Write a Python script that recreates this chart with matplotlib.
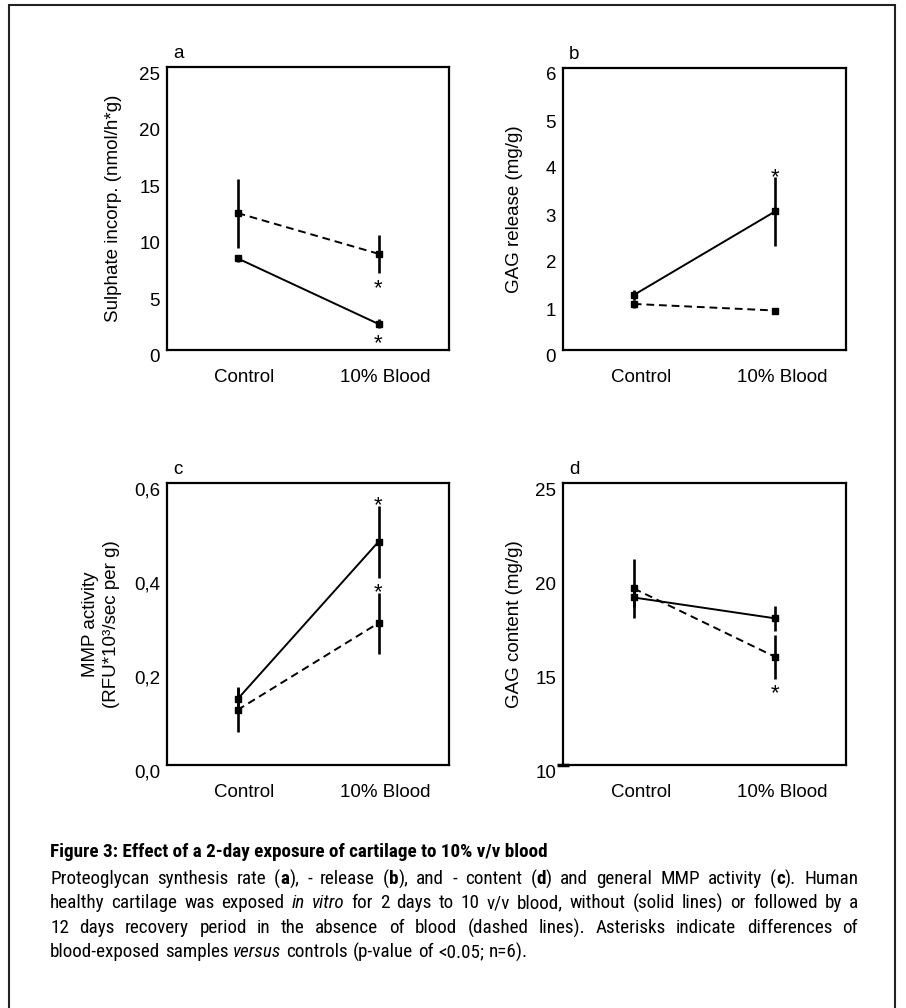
import re
import matplotlib
matplotlib.use('Agg')
import matplotlib.pyplot as plt
import matplotlib.transforms as mtransforms
from matplotlib import font_manager
from matplotlib.patches import Rectangle

plt.rcParams['font.family'] = ['Liberation Sans', 'DejaVu Sans']

# x categories
groups = ['Control', '10% Blood']

# panel a - sulphate incorporation
sulphate_solid = [8.1, 2.3]
sulphate_solid_err = [0.3, 0.4]
sulphate_dashed = [12.1, 8.5]
sulphate_dashed_err = [3.05, 1.7]

# panel b - GAG release
release_solid = [1.17, 2.95]
release_solid_err = [0.1, 0.73]
release_dashed = [0.98, 0.84]
release_dashed_err = [0.08, 0.05]

# panel c - MMP activity
mmp_solid = [0.14, 0.475]
mmp_solid_err = [0.027, 0.077]
mmp_dashed = [0.117, 0.302]
mmp_dashed_err = [0.047, 0.065]

# panel d - GAG content
content_solid = [18.91, 17.8]
content_solid_err = [0.5, 0.65]
content_dashed = [19.39, 15.75]
content_dashed_err = [1.55, 1.15]

# significance marks: (series, side) at the 10% Blood point
stars_a = [('dashed', 'below'), ('solid', 'below')]
stars_b = [('solid', 'above')]
stars_c = [('solid', 'above'), ('dashed', 'above')]
stars_d = [('dashed', 'below')]

W, H = 906, 1008
fig = plt.figure(figsize=(W / 100, H / 100), dpi=100)


def rect(l, t, r, b):
    return [l / W, 1 - b / H, (r - l) / W, (b - t) / H]


def panel(pos, letter, solid, solid_err, dashed, dashed_err, stars,
          ylim, yticks, yticklabels, ylabel, label_x):
    ax = fig.add_axes(pos)
    x = list(range(len(groups)))
    ax.errorbar(x, dashed, yerr=dashed_err, color='black', lw=1.4, ls='--',
                dashes=(4, 2.5), marker='s', ms=5, elinewidth=1.9, capsize=0)
    ax.errorbar(x, solid, yerr=solid_err, color='black', lw=1.4, ls='-',
                marker='s', ms=5, elinewidth=1.9, capsize=0)
    series = {'solid': (solid, solid_err), 'dashed': (dashed, dashed_err)}
    for name, side in stars:
        vals, errs = series[name]
        if side == 'above':
            yv = vals[1] + errs[1]
            off = 4.3 - 8.6
        else:
            yv = vals[1] - errs[1]
            off = -6.5 - 8.6
        ax.annotate('*', (1, yv), xytext=(0, off), textcoords='offset points',
                    ha='center', va='baseline', fontsize=16)
    ax.set_xlim(-0.5, 1.5)
    ax.set_ylim(*ylim)
    ax.set_xticks(x)
    ax.set_xticklabels(groups, fontsize=13.5)
    ax.set_yticks(yticks)
    ax.set_yticklabels(yticklabels, fontsize=13.5)
    ax.tick_params(axis='both', length=0)
    ax.tick_params(axis='x', pad=14)
    ax.tick_params(axis='y', pad=5)
    for sp in ax.spines.values():
        sp.set_linewidth(1.6)
    dy = mtransforms.ScaledTranslation(0, -0.06, fig.dpi_scale_trans)
    for lab in ax.get_yticklabels():
        lab.set_transform(lab.get_transform() + dy)
    dx = mtransforms.ScaledTranslation(0.07, 0, fig.dpi_scale_trans)
    for lab in ax.get_xticklabels():
        lab.set_transform(lab.get_transform() + dx)
    ax.set_ylabel(ylabel, fontsize=13.5, linespacing=1.3)
    ax.yaxis.set_label_coords(label_x, 0.5)
    ax.text(0.04, 1.032, letter, transform=ax.transAxes, fontsize=13.5,
            ha='center', va='baseline')
    return ax


panel(rect(167, 67, 449, 350), 'a', sulphate_solid, sulphate_solid_err,
      sulphate_dashed, sulphate_dashed_err, stars_a, (0, 25),
      [0, 5, 10, 15, 20, 25], ['0', '5', '10', '15', '20', '25'],
      'Sulphate incorp. (nmol/h*g)', -0.159)
panel(rect(563, 68, 846, 350), 'b', release_solid, release_solid_err,
      release_dashed, release_dashed_err, stars_b, (0, 6),
      [0, 1, 2, 3, 4, 5, 6], ['0', '1', '2', '3', '4', '5', '6'],
      'GAG release (mg/g)', -0.142)
panel(rect(167, 483, 449, 765), 'c', mmp_solid, mmp_solid_err,
      mmp_dashed, mmp_dashed_err, stars_c, (0, 0.6),
      [0, 0.2, 0.4, 0.6], ['0,0', '0,2', '0,4', '0,6'],
      'MMP activity\n(RFU*10³/sec per g)', -0.167)
ax_d = panel(rect(563, 483, 846, 765), 'd', content_solid, content_solid_err,
             content_dashed, content_dashed_err, stars_d, (10, 25),
             [10, 15, 20, 25], ['10', '15', '20', '25'],
             'GAG content (mg/g)', -0.142)
ax_d.yaxis.set_remove_overlapping_locs(False)
ax_d.set_yticks([10], minor=True)
ax_d.tick_params(axis='y', which='minor', length=9, width=2.5,
                 direction='inout', left=True)

# outer frame
fig.add_artist(Rectangle((9 / W, -10 / H), 886 / W, 1013 / H,
                         transform=fig.transFigure, fill=False,
                         lw=1.5, ec='#222222', clip_on=False))


# caption
def narrow_font():
    for name in ['Liberation Sans Narrow', 'Arial Narrow', 'Roboto Condensed']:
        try:
            font_manager.findfont(name, fallback_to_default=False)
            return name
        except ValueError:
            pass
    return 'Liberation Sans'


cap_font = narrow_font()
cap_size = 13.8
heading = 'Figure 3: Effect of a 2-day exposure of cartilage to 10% v/v blood'
caption_lines = [
    'Proteoglycan synthesis rate (**a**), - release (**b**), and - content (**d**) and general MMP activity (**c**). Human',
    'healthy cartilage was exposed _in_ _vitro_ for 2 days to 10 v/v blood, without (solid lines) or followed by a',
    '12 days recovery period in the absence of blood (dashed lines). Asterisks indicate differences of',
    'blood-exposed samples _versus_ controls (p-value of <0.05; n=6).',
]

fig.text(50 / W, 1 - 852 / H, heading, fontsize=cap_size, fontweight='bold',
         family=cap_font, va='center', ha='left')

renderer = fig.canvas.get_renderer()


def draw_line(line, y, x0, x1, justify):
    words = []
    for w in line.split(' '):
        segs = []
        for part in re.split(r'(\*\*.*?\*\*|_.*?_)', w):
            if not part:
                continue
            if part.startswith('**'):
                segs.append((part[2:-2], 'bold', 'normal'))
            elif part.startswith('_'):
                segs.append((part[1:-1], 'normal', 'italic'))
            else:
                segs.append((part, 'normal', 'normal'))
        objs = []
        for s, wt, st in segs:
            t = fig.text(0, 1 - y / H, s, fontsize=cap_size, family=cap_font,
                         fontweight=wt, fontstyle=st, va='center', ha='left')
            objs.append((t, t.get_window_extent(renderer).width))
        words.append(objs)
    total = sum(wd for objs in words for _, wd in objs)
    if justify:
        gap = (x1 - x0 - total) / (len(words) - 1)
    else:
        gap = cap_size * 100 / 72 * 0.25
    x = x0
    for objs in words:
        for t, wd in objs:
            t.set_x(x / W)
            x += wd
        x += gap


ys = [879, 903, 928, 952]
for i, (line, y) in enumerate(zip(caption_lines, ys)):
    draw_line(line, y, 50, 858, i < len(caption_lines) - 1)

fig.savefig('out.png', dpi=100)
